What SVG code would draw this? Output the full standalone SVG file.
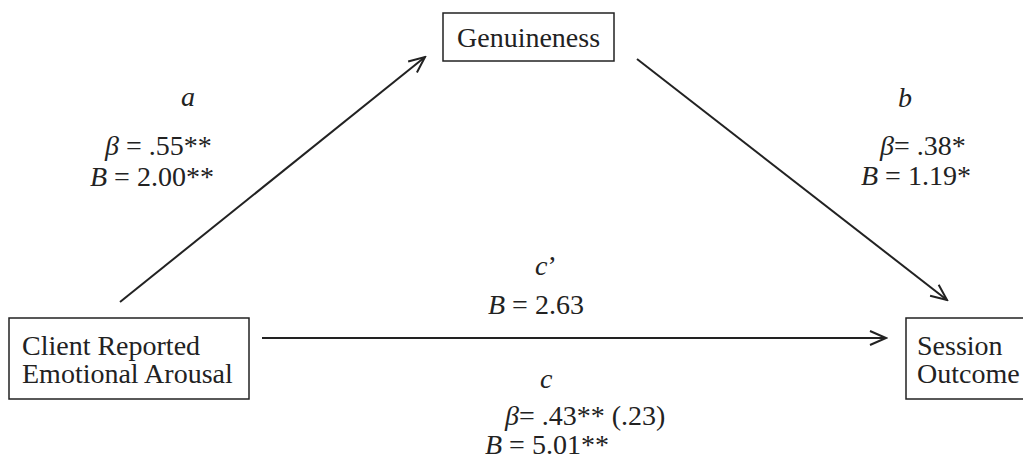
<svg xmlns="http://www.w3.org/2000/svg" width="1023" height="461" viewBox="0 0 1023 461">
<style>
.box{fill:#fff;stroke:#222;stroke-width:1.5}
.t{font-family:"Liberation Serif","Times New Roman",serif;font-size:28px;fill:#222}
.i{font-style:italic}
.edge{stroke:#222;stroke-width:2;fill:none}
</style>
<defs>
<marker id="arr" viewBox="0 0 20 20" refX="18" refY="10" markerWidth="20" markerHeight="20" markerUnits="userSpaceOnUse" orient="auto">
<path d="M2,3 L18,10 L2,17" fill="none" stroke="#222" stroke-width="2"/>
</marker>
</defs>
<rect width="1023" height="461" fill="#fff"/>
<g id="connectors">
<line class="edge" x1="120" y1="302" x2="425" y2="57" marker-end="url(#arr)"/>
<line class="edge" x1="637" y1="59" x2="947" y2="300" marker-end="url(#arr)"/>
<line class="edge" x1="262" y1="338" x2="886" y2="338" marker-end="url(#arr)"/>
</g>
<g id="genuineness">
<rect class="box" x="443" y="13" width="171" height="48"/>
<text class="t" x="457" y="47">Genuineness</text>
</g>
<g id="client">
<rect class="box" x="9" y="318" width="240" height="81"/>
<text class="t" x="22" y="355">Client Reported</text>
<text class="t" x="22" y="383">Emotional Arousal</text>
</g>
<g id="session">
<rect class="box" x="906" y="318" width="130" height="81"/>
<text class="t" x="917" y="355">Session</text>
<text class="t" x="917" y="383">Outcome</text>
</g>
<g id="labels">
<text class="t i" x="181" y="106">a</text>
<text class="t" x="105" y="155"><tspan class="i">β</tspan> = .55**</text>
<text class="t" x="90" y="186"><tspan class="i">B</tspan> = 2.00**</text>
<text class="t i" x="898" y="107">b</text>
<text class="t" x="880" y="155"><tspan class="i">β</tspan>= .38*</text>
<text class="t" x="861" y="185"><tspan class="i">B</tspan> = 1.19*</text>
<text class="t" x="535" y="275"><tspan class="i">c</tspan>’</text>
<text class="t" x="488" y="314"><tspan class="i">B</tspan> = 2.63</text>
<text class="t i" x="540" y="388">c</text>
<text class="t" x="505" y="425"><tspan class="i">β</tspan>= .43** (.23)</text>
<text class="t" x="485" y="454"><tspan class="i">B</tspan> = 5.01**</text>
</g>
</svg>
